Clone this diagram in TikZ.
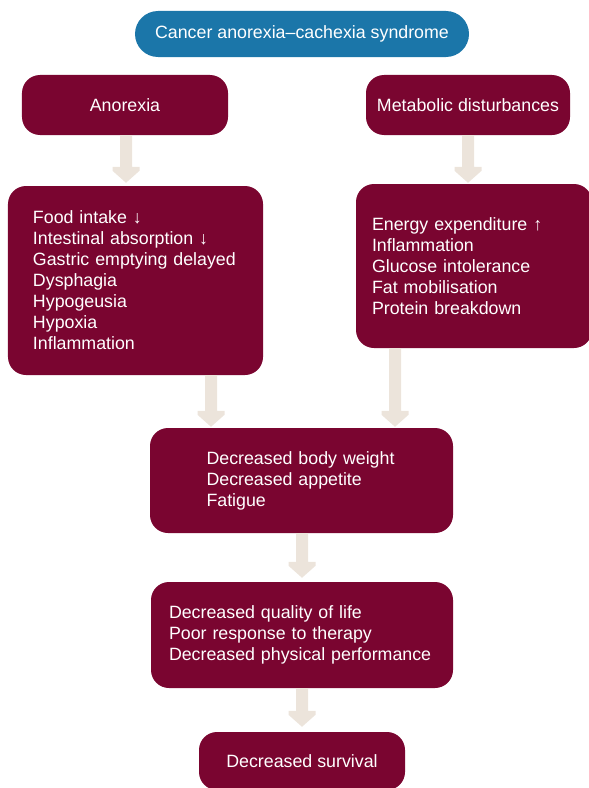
\documentclass[tikz,border=0pt]{standalone}
\usepackage{fontspec}
\setmainfont{Liberation Sans}
\usetikzlibrary{calc}
\definecolor{maroon}{HTML}{7A0530}
\definecolor{pillblue}{HTML}{1B76A9}
\definecolor{arrowc}{HTML}{ECE4DB}
\newcommand\fatarrow[2]{%
  \fill[arrowc] ($(#1)+(-6,0)$) -- ($(#2)+(-6,-16)$) -- ($(#2)+(-13.5,-16)$) -- ($(#2)+(-13.5,-12)$) -- (#2)
    -- ($(#2)+(13.5,-12)$) -- ($(#2)+(13.5,-16)$) -- ($(#2)+(6,-16)$) -- ($(#1)+(6,0)$) -- cycle;}
\begin{document}
\begin{tikzpicture}[x=1bp,y=-1bp,
  box/.style={draw=none,fill=maroon,text=white,rounded corners=18bp,inner sep=0pt,
    font=\fontsize{17.8bp}{21bp}\selectfont},
  pill/.style={draw=none,fill=pillblue,text=white,rounded corners=23bp,inner sep=0pt,
    minimum width=334bp,minimum height=46bp,font=\fontsize{17.8bp}{21bp}\selectfont}]
\useasboundingbox (0,0) rectangle (589,788);
\begin{scope}
\clip (0,0) rectangle (589,788);
\node[pill] (top) at (302,34) {Cancer anorexia–cachexia syndrome};
\node[box,minimum width=206bp,minimum height=60bp] (anor) at (125,105) {Anorexia};
\node[box,minimum width=204bp,minimum height=60bp] (metab) at (468,105) {Metabolic disturbances};
\node[box,minimum width=255bp,minimum height=189bp,text width=205bp,align=left] (llist) at (135.5,280.5)
  {Food intake ↓\\Intestinal absorption ↓\\Gastric emptying delayed\\Dysphagia\\Hypogeusia\\Hypoxia\\Inflammation};
\node[box,minimum width=236bp,minimum height=164bp,text width=204bp,align=left] (rlist) at (474,266)
  {Energy expenditure ↑\\Inflammation\\Glucose intolerance\\Fat mobilisation\\Protein breakdown};
\node[box,minimum width=303bp,minimum height=105bp,text width=190bp,align=left] (mid) at (301.5,480.5)
  {Decreased body weight\\Decreased appetite\\Fatigue};
\node[box,minimum width=302bp,minimum height=106bp,text width=266bp,align=left] (qol) at (302,635)
  {Decreased quality of life\\Poor response to therapy\\Decreased physical performance};
\node[box,minimum width=206bp,minimum height=58bp] (surv) at (302,761) {Decreased survival};
\end{scope}
\coordinate (c1) at (126,0);
\coordinate (c3) at (211,0);
\coordinate (c4) at (395,0);
\coordinate (a1s) at (anor.south -| c1);
\coordinate (a1e) at ($(llist.north -| c1)+(0,-3)$);
\coordinate (a2s) at (metab.south);
\coordinate (a2e) at ($(rlist.north -| metab.south)+(0,-1)$);
\coordinate (a3s) at (llist.south -| c3);
\coordinate (a3e) at ($(mid.north -| c3)+(0,-1)$);
\coordinate (a4s) at (rlist.south -| c4);
\coordinate (a4e) at ($(mid.north -| c4)+(0,-1)$);
\coordinate (a5s) at (mid.south -| qol.north);
\coordinate (a5e) at ($(qol.north)+(0,-4)$);
\coordinate (a6s) at (qol.south);
\coordinate (a6e) at ($(surv.north)+(0,-5)$);
\fatarrow{a1s}{a1e}
\fatarrow{a2s}{a2e}
\fatarrow{a3s}{a3e}
\fatarrow{a4s}{a4e}
\fatarrow{a5s}{a5e}
\fatarrow{a6s}{a6e}
\end{tikzpicture}
\end{document}
